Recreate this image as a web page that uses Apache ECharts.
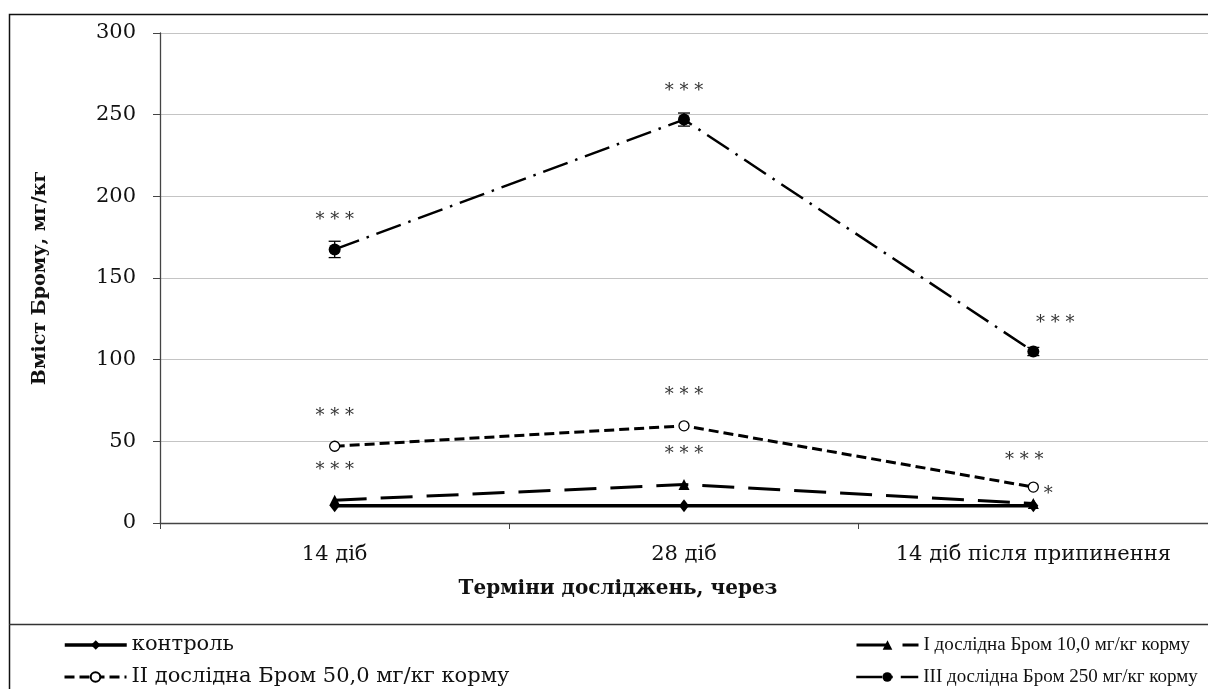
<!DOCTYPE html>
<html>
<head>
<meta charset="utf-8">
<script src="https://cdn.jsdelivr.net/npm/echarts@6/dist/echarts.min.js"></script>
<style>
  html, body { margin: 0; padding: 0; background: #fff; }
  #chart { width: 1208px; height: 689px; }
</style>
</head>
<body>
<div id="chart"></div>
<script>
// Періоди досліджень
const categories = ['14 діб', '28 діб', '14 діб після припинення'];

// Вміст Брому, мг/кг
const control  = [10.5, 10.5, 10.5];
const group1   = [14, 23.5, 12];
const group2   = [47, 59.5, 22];
const group3   = [167.5, 247, 105];
const group3Err = [5, 4, 2.5];

// Позначки вірогідності
const stars1 = ['* * *', '* * *', '*'];
const stars2 = ['* * *', '* * *', '* * *'];
const stars3 = ['* * *', '* * *', '* * *'];

const names = [
  'контроль',
  'I дослідна Бром 10,0 мг/кг корму',
  'II дослідна Бром 50,0 мг/кг корму',
  'III дослідна Бром 250 мг/кг корму'
];

const yTicks = { min: 0, max: 300, interval: 50 };

const serif = '"DejaVu Serif", serif';
const serifNarrow = '"Liberation Serif", "Times New Roman", serif';
const ink = '#000';

function withStars(values, stars, offsets) {
  return values.map((v, i) => ({
    value: v,
    label: {
      show: !!stars[i],
      formatter: stars[i],
      position: 'inside',
      offset: offsets[i],
      fontFamily: serif,
      fontSize: 18,
      color: '#333'
    }
  }));
}

function legendItem(name, left, top, family, size, lineWidth) {
  return {
    data: [name],
    orient: 'horizontal',
    left: left, top: top,
    padding: 0,
    itemWidth: 62, itemHeight: 12,
    lineStyle: { width: lineWidth },
    textStyle: { fontFamily: family, fontSize: size, color: '#111', lineHeight: 22 }
  };
}

const chart = echarts.init(document.getElementById('chart'), null, { renderer: 'canvas' });

chart.setOption({
  animation: false,
  backgroundColor: '#fff',
  grid: { left: 160, right: -8, top: 33, bottom: 166, containLabel: false },
  xAxis: {
    type: 'category',
    data: categories,
    boundaryGap: true,
    axisLine: { lineStyle: { color: '#444', width: 1.3 } },
    axisTick: { show: true, length: 6, inside: false, lineStyle: { color: '#444' } },
    axisLabel: { interval: 0, fontFamily: serif, fontSize: 21, color: '#111', margin: 21 },
    splitLine: { show: false }
  },
  yAxis: {
    type: 'value',
    min: yTicks.min, max: yTicks.max, interval: yTicks.interval,
    name: 'Вміст Брому, мг/кг',
    nameLocation: 'middle',
    nameGap: 110,
    nameRotate: 90,
    nameTextStyle: { fontFamily: serif, fontSize: 19, fontWeight: 'bold', color: '#111' },
    axisLine: { show: true, lineStyle: { color: '#444', width: 1.3 } },
    axisTick: { show: true, length: 7, inside: false, lineStyle: { color: '#444' } },
    axisLabel: { fontFamily: serif, fontSize: 21, color: '#111', margin: 24 },
    splitLine: { show: true, lineStyle: { color: '#c4c4c4', width: 1 } }
  },
  legend: [
    legendItem(names[0], 63, 634, serif, 21, 3.5),
    legendItem(names[2], 63, 666, serif, 21, 3),
    legendItem(names[1], 855, 634, serifNarrow, 19, 3),
    legendItem(names[3], 855, 666, serifNarrow, 19, 2.5)
  ],
  graphic: [
    {
      type: 'rect',
      shape: { x: 9.5, y: 14.5, width: 1240, height: 740 },
      style: { fill: 'none', stroke: '#111', lineWidth: 1.5 },
      silent: true, z: -1
    },
    {
      type: 'line',
      shape: { x1: 9, y1: 624.5, x2: 1250, y2: 624.5 },
      style: { stroke: '#333', lineWidth: 1.3 },
      silent: true
    },
    {
      type: 'text',
      x: 618, y: 589,
      style: {
        text: 'Терміни досліджень, через',
        font: 'bold 20px ' + serif,
        fill: '#111',
        align: 'center',
        verticalAlign: 'middle'
      }
    }
  ],
  series: [
    {
      name: names[0],
      type: 'line',
      data: control,
      symbol: 'diamond',
      symbolSize: [10, 13],
      lineStyle: { color: ink, width: 3.5, type: 'solid' },
      itemStyle: { color: ink },
      z: 3
    },
    {
      name: names[1],
      type: 'line',
      data: withStars(group1, stars1, [[0, -30], [0, -30], [15, -9]]),
      symbol: 'triangle',
      symbolSize: 11,
      lineStyle: { color: ink, width: 3, type: [32, 14] },
      itemStyle: { color: ink },
      z: 4
    },
    {
      name: names[2],
      type: 'line',
      data: withStars(group2, stars2, [[0, -30], [0, -30], [-9, -27]]),
      symbol: 'circle',
      symbolSize: 10,
      lineStyle: { color: ink, width: 3, type: [10, 5] },
      itemStyle: { color: '#fff', borderColor: ink, borderWidth: 1.3 },
      z: 4
    },
    {
      name: names[3],
      type: 'line',
      data: withStars(group3, stars3, [[0, -29], [0, -28], [22, -28]]),
      symbol: 'circle',
      symbolSize: 12,
      lineStyle: { color: ink, width: 2.5, type: [26, 8, 2.5, 8] },
      itemStyle: { color: ink },
      z: 4
    },
    {
      name: 'err3',
      type: 'custom',
      data: group3.map((v, i) => [i, v - group3Err[i], v + group3Err[i]]),
      renderItem: function (params, api) {
        const lo = api.coord([api.value(0), api.value(1)]);
        const hi = api.coord([api.value(0), api.value(2)]);
        const w = 6;
        const st = { stroke: ink, lineWidth: 1.3 };
        return {
          type: 'group',
          children: [
            { type: 'line', shape: { x1: lo[0], y1: lo[1], x2: hi[0], y2: hi[1] }, style: st },
            { type: 'line', shape: { x1: lo[0] - w, y1: lo[1], x2: lo[0] + w, y2: lo[1] }, style: st },
            { type: 'line', shape: { x1: hi[0] - w, y1: hi[1], x2: hi[0] + w, y2: hi[1] }, style: st }
          ]
        };
      },
      z: 5,
      silent: true
    }
  ]
});
</script>
</body>
</html>
